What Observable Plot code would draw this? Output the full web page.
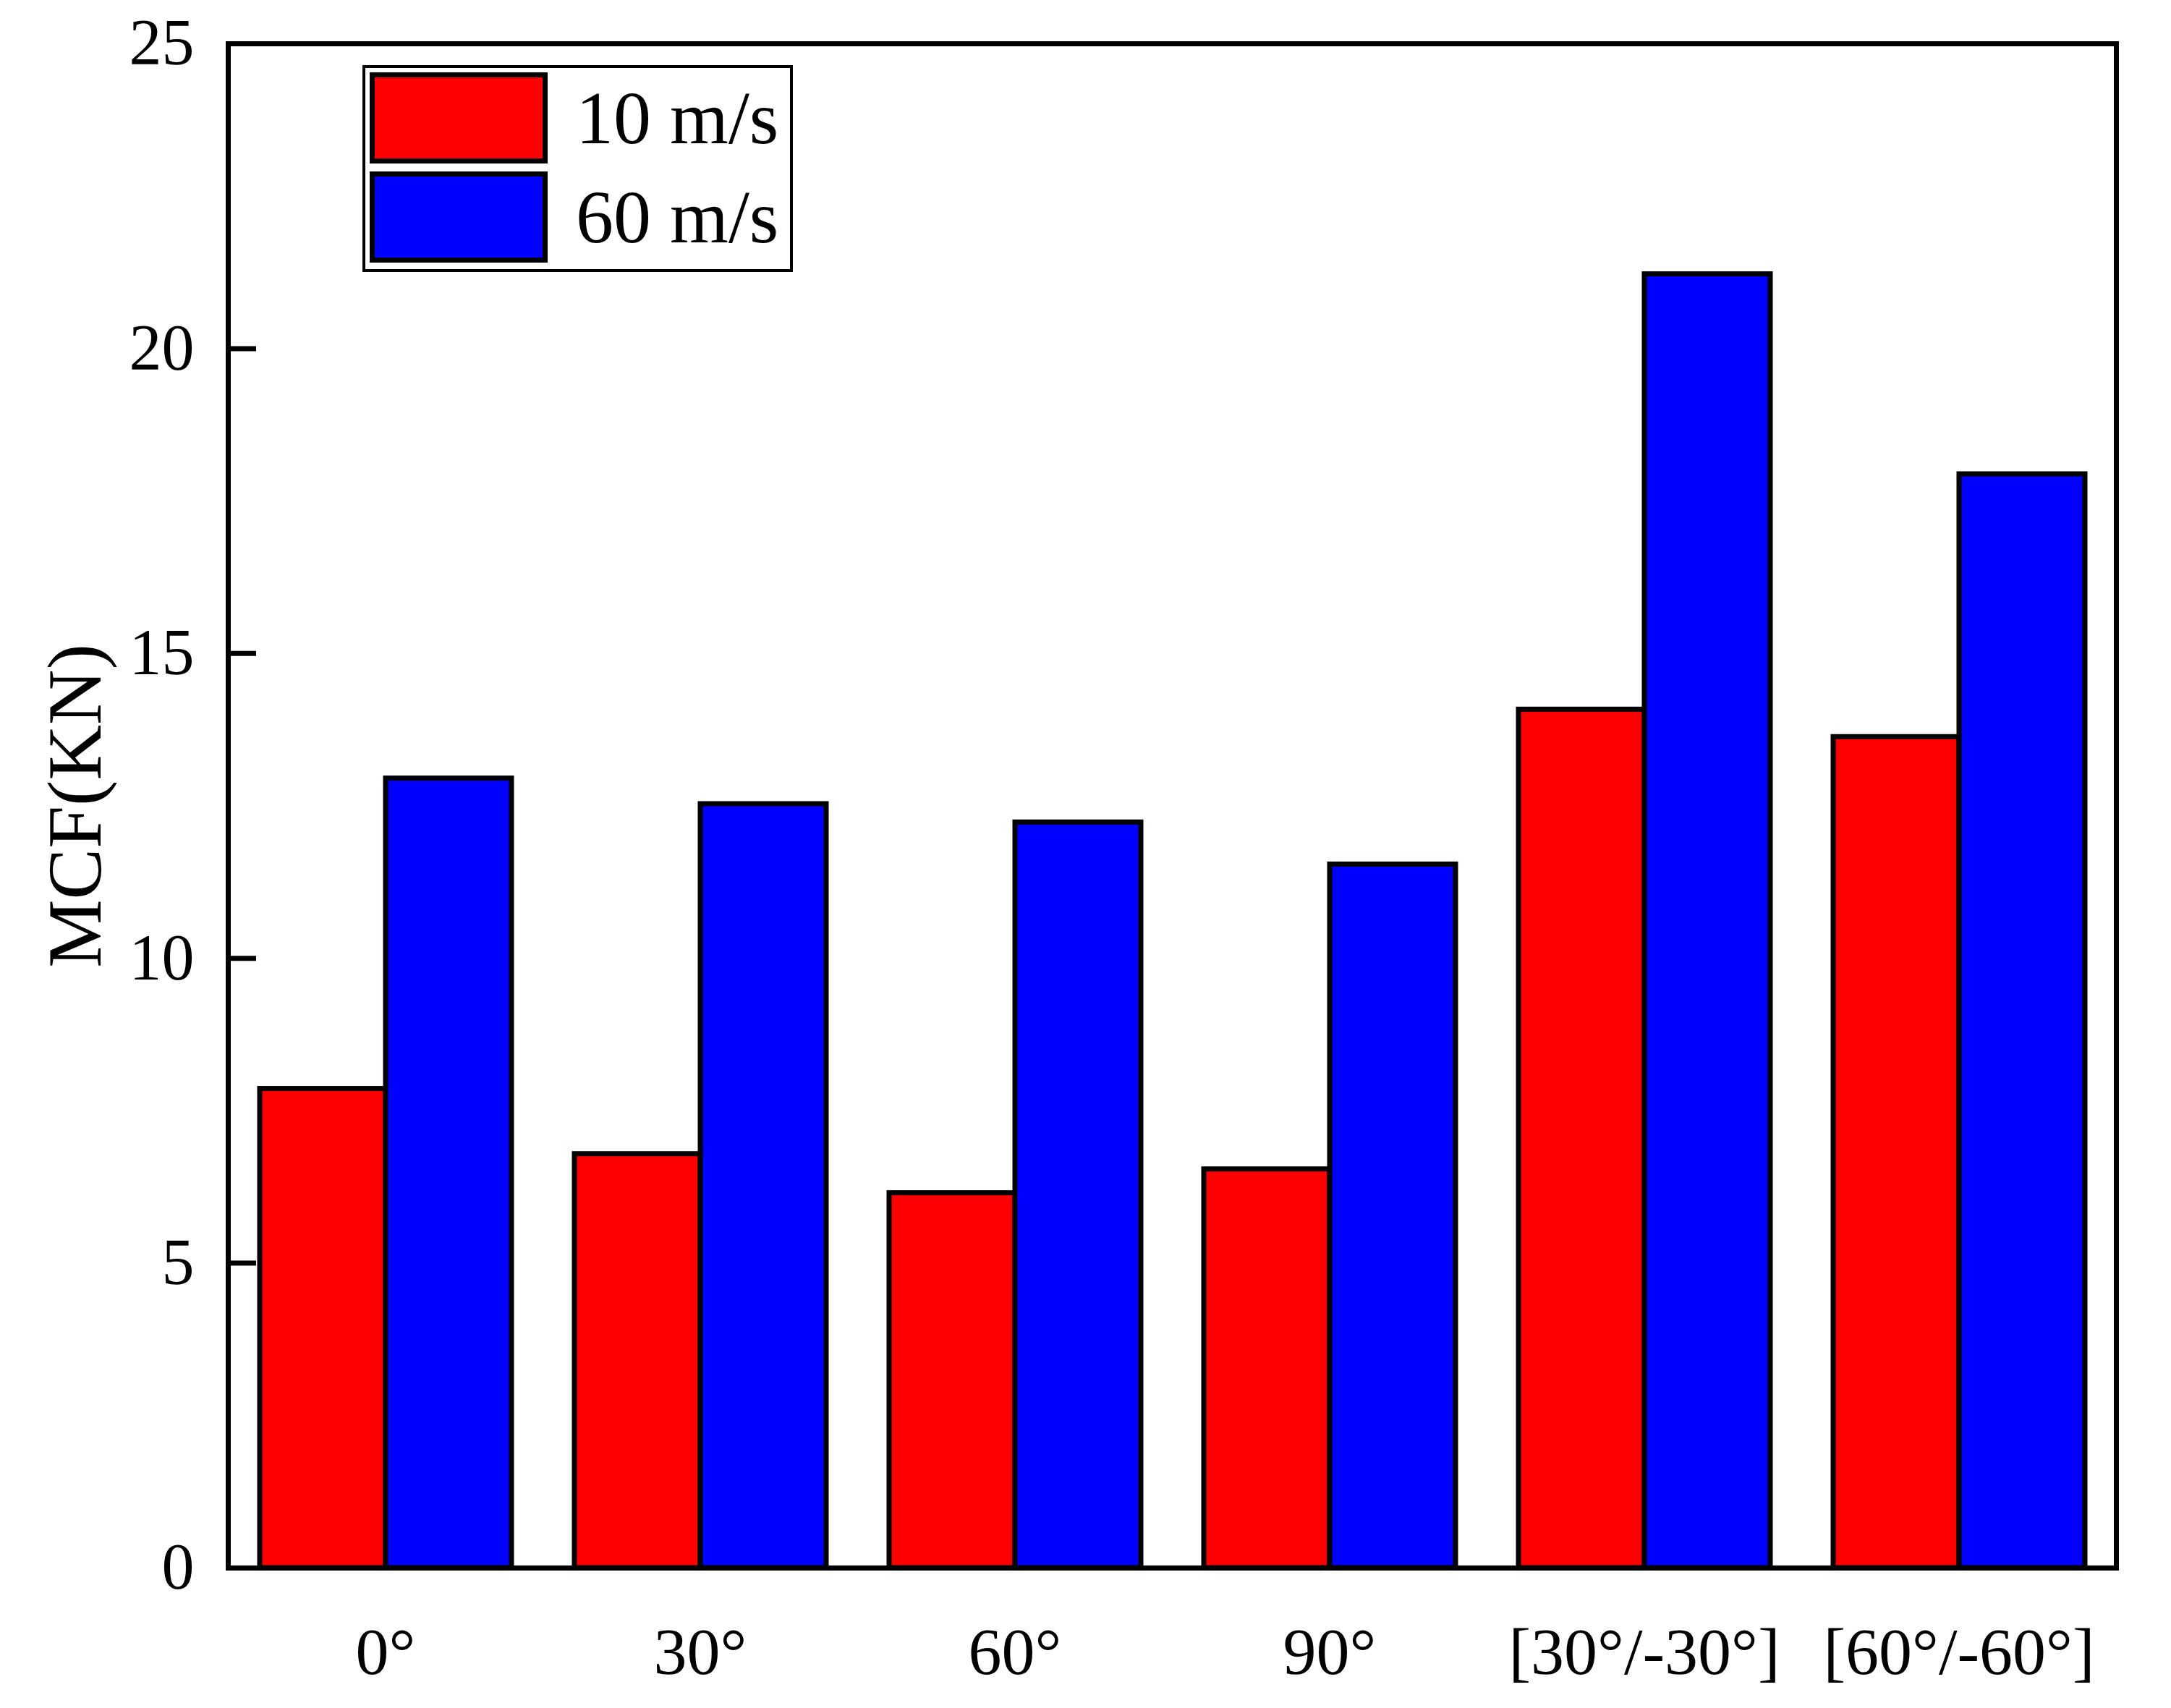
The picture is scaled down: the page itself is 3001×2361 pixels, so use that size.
<!DOCTYPE html>
<html>
<head>
<meta charset="utf-8">
<script src="https://cdn.jsdelivr.net/npm/d3@7"></script>
<script src="https://cdn.jsdelivr.net/npm/@observablehq/plot@0.6"></script>
<style>
  html, body { margin: 0; padding: 0; background: #ffffff; }
  #wrap { position: relative; width: 3001px; height: 2361px; font-family: "Liberation Serif", "Times New Roman", serif; }
  #legend { position: absolute; left: 501px; top: 90px; width: 595px; height: 286px; box-sizing: border-box;
            border: 4px solid #000; background: #fff; }
  .row { position: absolute; left: 6px; display: flex; align-items: center; }
  .sw { width: 246px; height: 126px; box-sizing: border-box; border: 7px solid #000; }
  .lab { margin-left: 39px; font-size: 104px; line-height: 1; color: #000; white-space: nowrap; }
</style>
</head>
<body>
<div id="wrap"></div>
<script>
const categories = ["0°", "30°", "60°", "90°", "[30°/-30°]", "[60°/-60°]"];
const series = ["10 m/s", "60 m/s"];
const mcf10 = [7.86, 6.79, 6.15, 6.54, 14.08, 13.63];
const mcf60 = [12.95, 12.53, 12.23, 11.54, 21.22, 17.94];
const yTicks = [0, 5, 10, 15, 20, 25];
const seriesColors = ["#ff0000", "#0000ff"];
const yLabel = "MCF(KN)";

const rows = categories.flatMap((c, i) => [
  {category: c, series: series[0], value: mcf10[i]},
  {category: c, series: series[1], value: mcf60[i]}
]);

const font = "'Liberation Serif', 'Times New Roman', serif";

const plot = Plot.plot({
  width: 3001,
  height: 2361,
  marginLeft: 312,
  marginRight: 74,
  marginTop: 60,
  marginBottom: 194,
  style: {fontFamily: font, background: "#ffffff", color: "#000000"},
  fx: {domain: categories, padding: 0},
  x: {domain: series, paddingInner: 0, paddingOuter: 0.25, axis: null},
  y: {domain: [0, 25]},
  color: {domain: series, range: seriesColors},
  marks: [
    Plot.barY(rows, {fx: "category", x: "series", y: "value", fill: "series", stroke: "#000000", strokeWidth: 7}),
    Plot.axisY({ticks: yTicks, tickSize: -39, tickPadding: 86, strokeWidth: 7, fontSize: 90, label: null}),
    Plot.axisY({ticks: [], tickSize: 0, label: yLabel, labelArrow: "none", labelAnchor: "center", labelOffset: 252, fontSize: 106}),
    Plot.axisFx({anchor: "bottom", tickSize: 0, tickPadding: 81, fontSize: 92, label: null}),
    Plot.frame({facet: "super", stroke: "#000000", strokeWidth: 7})
  ]
});

const wrap = document.getElementById("wrap");
wrap.appendChild(plot);

// Legend drawn from the plot's own color scale
const colorScale = plot.scale("color");
const legend = document.createElement("div");
legend.id = "legend";
colorScale.domain.forEach((name, i) => {
  const row = document.createElement("div");
  row.className = "row";
  row.style.top = (6 + i * 137) + "px";
  const sw = document.createElement("div");
  sw.className = "sw";
  sw.style.background = colorScale.range[i];
  const lab = document.createElement("span");
  lab.className = "lab";
  lab.textContent = name;
  row.appendChild(sw);
  row.appendChild(lab);
  legend.appendChild(row);
});
wrap.appendChild(legend);
</script>
</body>
</html>
